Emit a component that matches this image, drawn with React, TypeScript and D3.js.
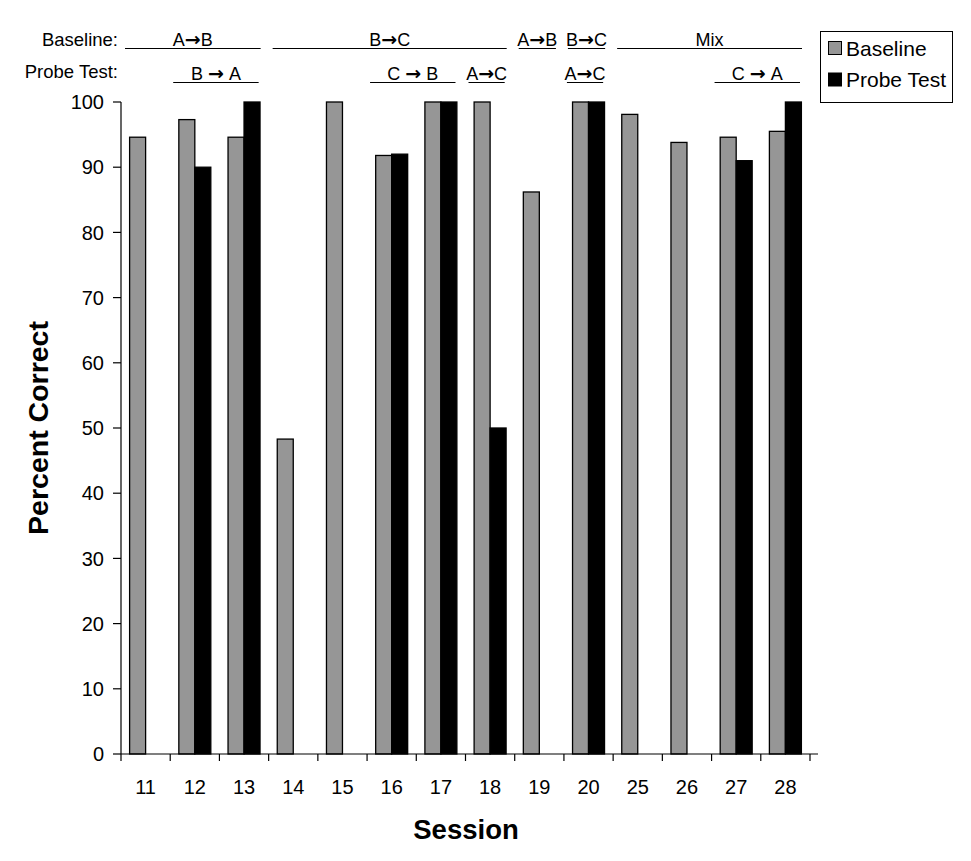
import React from "react";
import * as d3 from "d3";

const sessions = ["11", "12", "13", "14", "15", "16", "17", "18", "19", "20", "25", "26", "27", "28"];
const baselineValues: (number | null)[] = [94.6, 97.3, 94.6, 48.3, 100, 91.8, 100, 100, 86.2, 100, 98.1, 93.8, 94.6, 95.5];
const probeValues: (number | null)[] = [null, 90, 100, null, null, 92, 100, 50, null, 100, null, null, 91, 100];
const yTicks = [0, 10, 20, 30, 40, 50, 60, 70, 80, 90, 100];
const seriesNames = ["Baseline", "Probe Test"];
const seriesColors = ["#969696", "#000000"];

// annotation rows: [from, to, spaced, first session, last session]
const baselinePhases: [string, string, boolean, string, string][] = [
  ["A", "B", false, "11", "13"],
  ["B", "C", false, "14", "18"],
  ["A", "B", false, "19", "19"],
  ["B", "C", false, "20", "20"],
  ["Mix", "", false, "25", "28"],
];
const probePhases: [string, string, boolean, string, string][] = [
  ["B", "A", true, "12", "13"],
  ["C", "B", true, "16", "17"],
  ["A", "C", false, "18", "18"],
  ["A", "C", false, "20", "20"],
  ["C", "A", true, "27", "28"],
];

const FONT = "'Liberation Sans', Arial, Helvetica, sans-serif";
const ARROW_FONT = "'DejaVu Sans', sans-serif";

export default function App() {
  const W = 971, H = 861;
  const left = 121, right = 810, top = 102, bottom = 754;

  const x = d3.scaleBand<string>().domain(sessions).range([left, right]).paddingInner(0.35).paddingOuter(0.175);
  const xOuter = d3.scaleBand<string>().domain(sessions).range([left, right]).padding(0);
  const x1 = d3.scaleBand<string>().domain(seriesNames).range([0, x.bandwidth()]).padding(0);
  const y = d3.scaleLinear().domain([0, 100]).range([bottom, top]);

  const step = xOuter.step();
  const boundaries = d3.range(sessions.length + 1).map((i) => left + i * step);

  const series = [baselineValues, probeValues];

  const phaseLine = (p: [string, string, boolean, string, string], insL: number, insR: number) => {
    const x0 = (xOuter(p[3]) as number) + insL;
    const x1p = (xOuter(p[4]) as number) + step - insR;
    return { x0, x1: x1p, mid: (x0 + x1p) / 2 };
  };

  const label = (p: [string, string, boolean, string, string]) => {
    if (!p[1]) return p[0];
    const sp = p[2] ? "\u00a0" : "";
    return (
      <>
        {p[0] + sp}
        <tspan fontFamily={ARROW_FONT} fontSize={19} fontWeight="bold">{"\u2192"}</tspan>
        {sp + p[1]}
      </>
    );
  };

  return (
    <svg width={W} height={H} style={{ position: "absolute", left: 0, top: 0, background: "#fff" }} fontFamily={FONT}>
      <rect x={0} y={0} width={W} height={H} fill="#fff" />
      {/* bars */}
      {series.map((vals, si) =>
        vals.map((v, i) =>
          v == null ? null : (
            <rect
              key={`${si}-${i}`}
              x={(x(sessions[i]) as number) + (x1(seriesNames[si]) as number)}
              y={y(v)}
              width={x1.bandwidth()}
              height={y(0) - y(v)}
              fill={seriesColors[si]}
              stroke="#000"
              strokeWidth={1.3}
            />
          )
        )
      )}
      {/* y axis */}
      <line x1={left} x2={left} y1={top} y2={bottom} stroke="#000" strokeWidth={1.2} />
      {yTicks.map((t) => (
        <g key={t}>
          <line x1={left - 8} x2={left} y1={y(t)} y2={y(t)} stroke="#000" strokeWidth={1.2} />
          <text x={104} y={y(t)} dy="0.36em" textAnchor="end" fontSize={20} fill="#000">
            {t}
          </text>
        </g>
      ))}
      {/* x axis */}
      <line x1={left} x2={818} y1={bottom} y2={bottom} stroke="#000" strokeWidth={1.2} />
      {boundaries.map((b, i) => (
        <line key={i} x1={b} x2={b} y1={bottom} y2={bottom + 7} stroke="#000" strokeWidth={1.2} />
      ))}
      {sessions.map((s) => (
        <text key={s} x={(xOuter(s) as number) + step / 2} y={794} textAnchor="middle" fontSize={20} fill="#000">
          {s}
        </text>
      ))}
      {/* axis titles */}
      <text x={466} y={839} textAnchor="middle" fontSize={27.5} fontWeight="bold" fill="#000">
        Session
      </text>
      <text
        transform={`translate(48, ${(top + bottom) / 2}) rotate(-90)`}
        textAnchor="middle"
        fontSize={28.5}
        fontWeight="bold"
        fill="#000"
      >
        Percent Correct
      </text>
      {/* phase annotations */}
      <text x={118} y={46} textAnchor="end" fontSize={18.5} fill="#000">Baseline:</text>
      <text x={118} y={78} textAnchor="end" fontSize={18.5} fill="#000">Probe Test:</text>
      {baselinePhases.map((p, i) => {
        const l = phaseLine(p, 4, 8);
        return (
          <g key={`b${i}`}>
            <line x1={l.x0} x2={l.x1} y1={48.5} y2={48.5} stroke="#000" strokeWidth={1} />
            <text x={l.mid} y={45.5} textAnchor="middle" fontSize={18} fill="#000">{label(p)}</text>
          </g>
        );
      })}
      {probePhases.map((p, i) => {
        const l = phaseLine(p, 3, 10);
        return (
          <g key={`p${i}`}>
            <line x1={l.x0} x2={l.x1} y1={82.5} y2={82.5} stroke="#000" strokeWidth={1} />
            <text x={l.mid} y={80} textAnchor="middle" fontSize={18} fill="#000">{label(p)}</text>
          </g>
        );
      })}
      {/* legend */}
      <rect x={820.5} y={31.5} width={132} height={71} fill="#fff" stroke="#000" strokeWidth={1} />
      {seriesNames.map((n, i) => (
        <g key={n}>
          <rect x={828.5} y={41.5 + i * 31.5} width={13} height={13} fill={seriesColors[i]} stroke="#000" strokeWidth={1} />
          <text x={846} y={55.5 + i * 31.5} fontSize={21} fill="#000">{n}</text>
        </g>
      ))}
    </svg>
  );
}
